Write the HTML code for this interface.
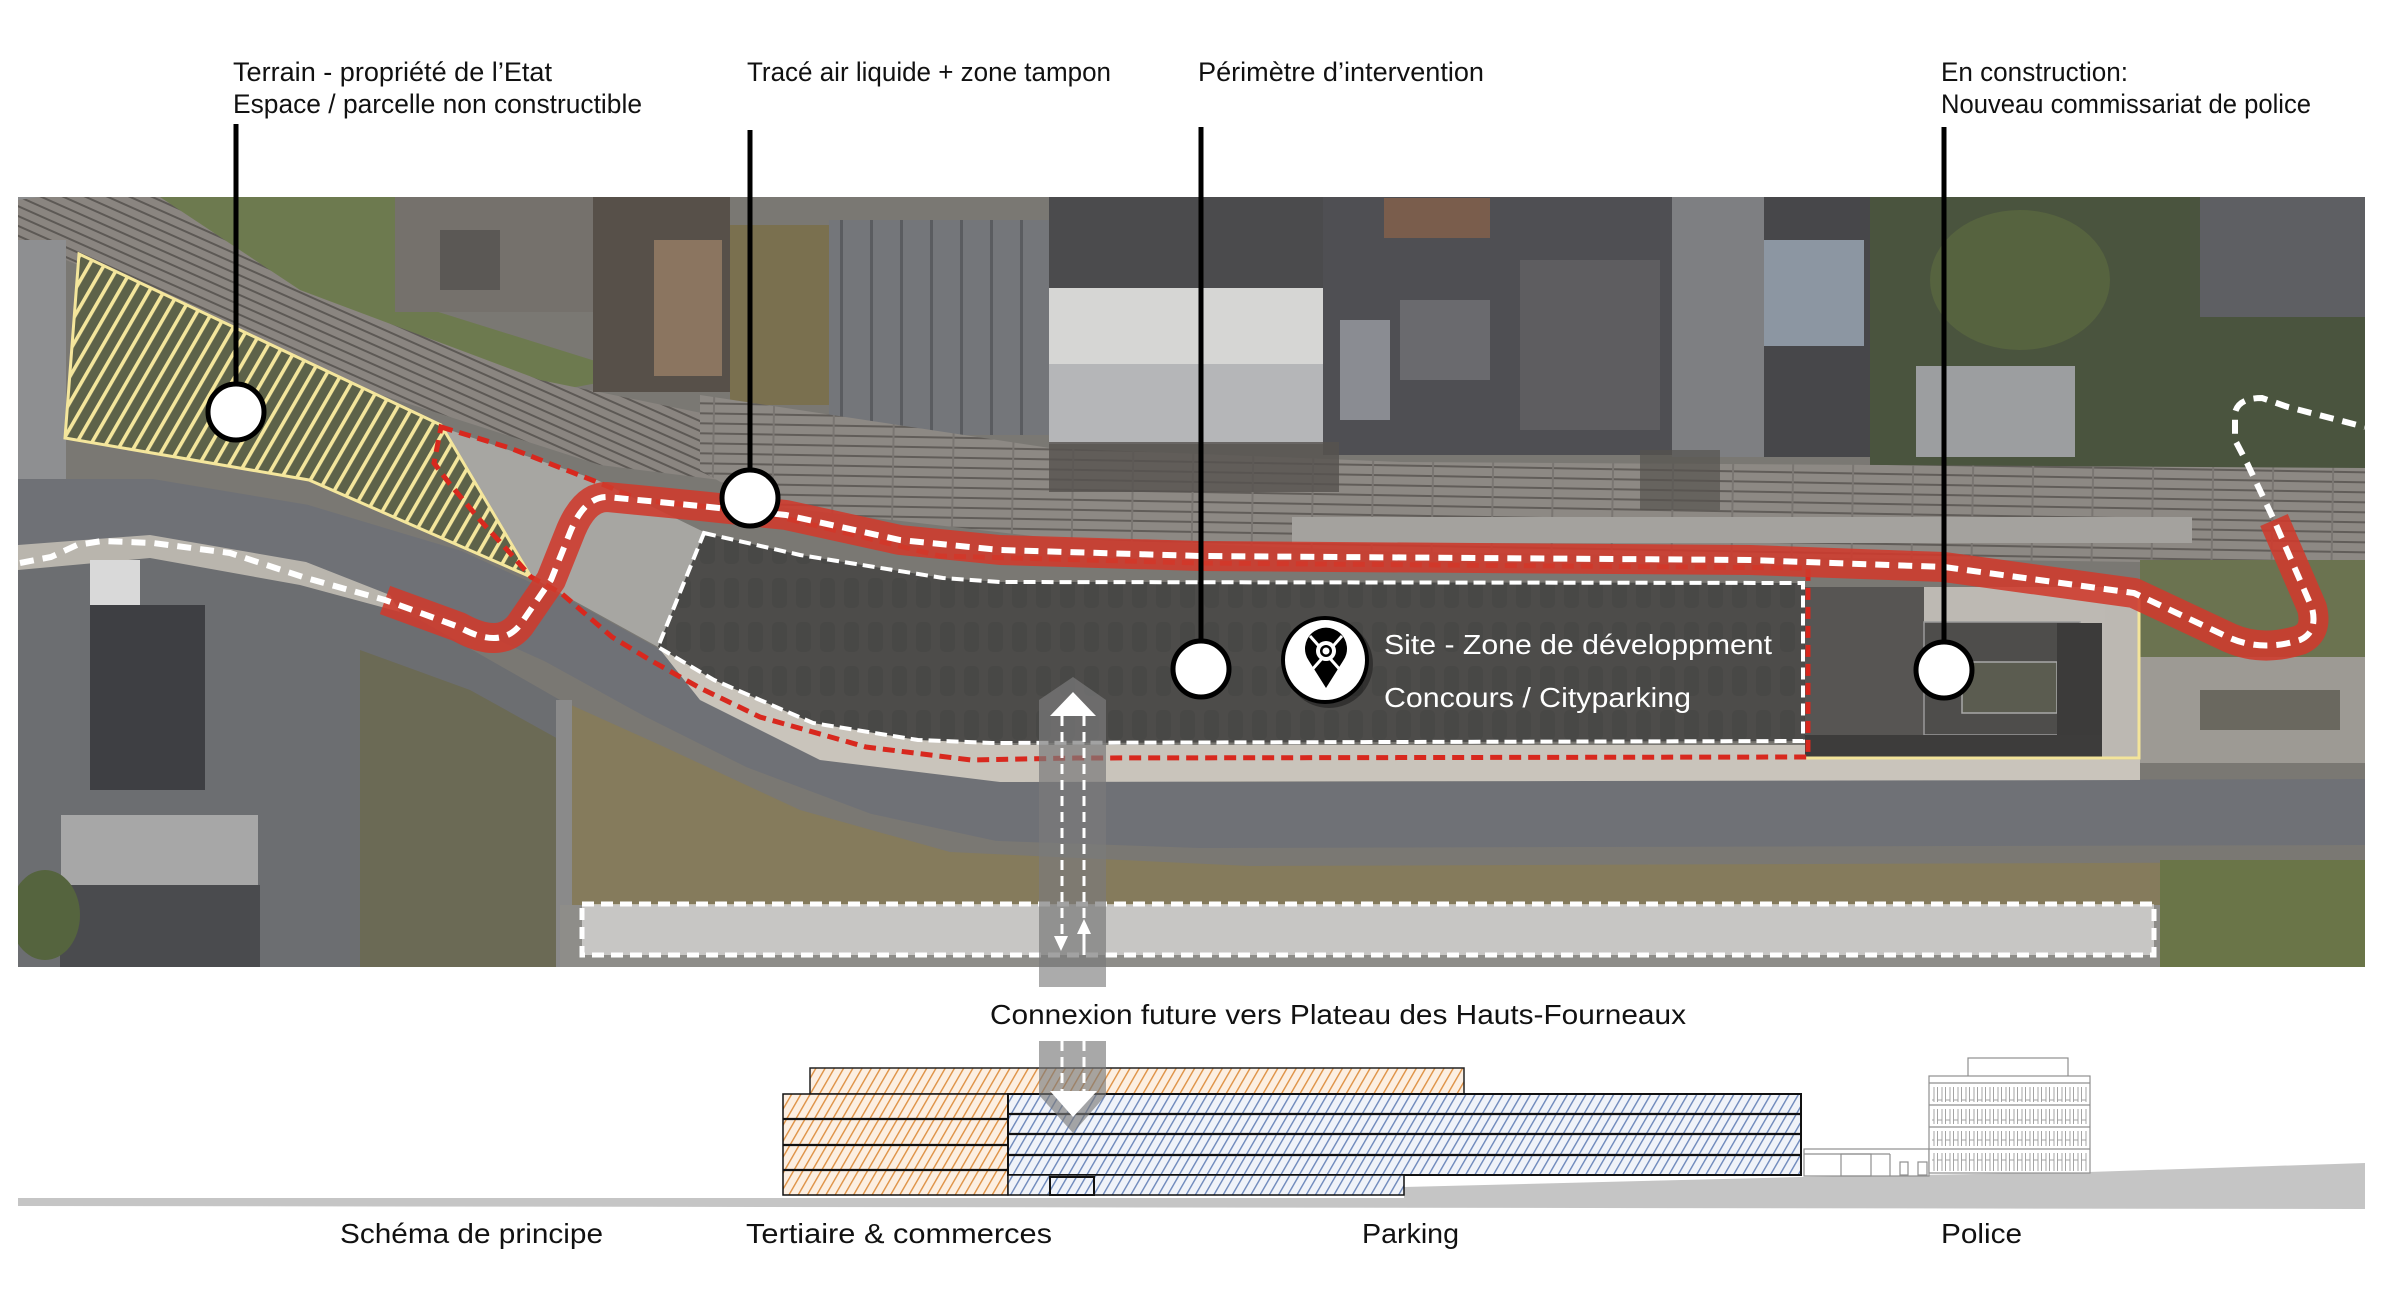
<!DOCTYPE html>
<html><head><meta charset="utf-8"><style>
html,body{margin:0;padding:0;background:#fff;}
svg{display:block;}
text{font-family:"Liberation Sans",sans-serif;}
</style></head><body>
<svg width="2384" height="1296" viewBox="0 0 2384 1296" xmlns="http://www.w3.org/2000/svg">
<defs>
 <clipPath id="ac"><rect x="18" y="197" width="2347" height="770"/></clipPath>
 <pattern id="railL" width="40" height="9" patternUnits="userSpaceOnUse" patternTransform="rotate(24)">
  <rect width="40" height="9" fill="#8a8580"/><rect y="0" width="40" height="2" fill="#5d5955"/>
 </pattern>
 <pattern id="railR" width="60" height="10" patternUnits="userSpaceOnUse" patternTransform="rotate(1)">
  <rect width="60" height="10" fill="#8d8984"/><rect y="0" width="60" height="2" fill="#615d59"/><rect x="0" y="0" width="2" height="10" fill="#7a7672"/>
 </pattern>
 <pattern id="roofs" width="30" height="30" patternUnits="userSpaceOnUse">
  <rect width="30" height="30" fill="#74767a"/><rect width="3" height="30" fill="#5a5c60"/>
 </pattern>
 <pattern id="cars" width="24" height="44" patternUnits="userSpaceOnUse">
  <rect width="24" height="44" fill="#504f4d"/><rect x="4" y="6" width="15" height="30" rx="5" fill="#474644"/>
 </pattern>
 <pattern id="hatchY" width="13" height="13" patternUnits="userSpaceOnUse" patternTransform="rotate(30)">
  <rect x="0" y="0" width="3.6" height="13" fill="#f4e69c"/>
 </pattern>
 <pattern id="hatchO" width="8" height="8" patternUnits="userSpaceOnUse" patternTransform="rotate(30)">
  <rect width="8" height="8" fill="#fcefe2"/><rect width="1.4" height="8" fill="#de9144"/>
 </pattern>
 <pattern id="hatchB" width="8" height="8" patternUnits="userSpaceOnUse" patternTransform="rotate(30)">
  <rect width="8" height="8" fill="#f0f3f9"/><rect width="1.4" height="8" fill="#6d88bb"/>
 </pattern>
 <pattern id="win" width="8" height="20" patternUnits="userSpaceOnUse">
  <rect x="1.5" y="0" width="4.5" height="20" fill="none" stroke="#9a9a9a" stroke-width="0.9"/>
 </pattern>
</defs>

<!-- ================= AERIAL ================= -->
<g clip-path="url(#ac)">
 <rect x="18" y="197" width="2347" height="770" fill="#7a7873"/>
 <rect x="18" y="197" width="45" height="380" fill="#8c8d8e"/>
 <polygon points="150,197 400,197 400,300 640,375 560,390 300,300" fill="#6d7a4f"/>
 <polygon points="40,197 160,197 300,290 540,380 760,425 760,485 600,465 350,385 150,295 18,240 18,200" fill="url(#railL)"/>
 <rect x="395" y="197" width="200" height="115" fill="#75716c"/>
 <rect x="440" y="230" width="60" height="60" fill="#5b5855"/>
 <rect x="593" y="197" width="137" height="195" fill="#575049"/>
 <rect x="654" y="240" width="68" height="136" fill="#8b7560"/>
 <rect x="730" y="225" width="100" height="180" fill="#7a704f"/>
 <rect x="829" y="220" width="220" height="215" fill="url(#roofs)"/>
 <rect x="1049" y="197" width="275" height="92" fill="#4b4b4d"/>
 <rect x="1049" y="288" width="274" height="77" fill="#d6d6d4"/>
 <rect x="1049" y="364" width="274" height="80" fill="#b5b6b8"/>
 <rect x="1323" y="197" width="350" height="258" fill="#4f4f53"/>
 <rect x="1384" y="198" width="106" height="40" fill="#7a5d4c"/>
 <rect x="1400" y="300" width="90" height="80" fill="#6a6a6e"/>
 <rect x="1520" y="260" width="140" height="170" fill="#5e5d60"/>
 <rect x="1340" y="320" width="50" height="100" fill="#8a8c92"/>
 <rect x="1672" y="197" width="92" height="260" fill="#7e7f82"/>
 <rect x="1764" y="197" width="106" height="260" fill="#47474a"/>
 <rect x="1764" y="240" width="100" height="106" fill="#8c96a2"/>
 <rect x="1870" y="197" width="495" height="280" fill="#4a543e"/>
 <ellipse cx="2020" cy="280" rx="90" ry="70" fill="#56633f"/>
 <rect x="2200" y="197" width="165" height="120" fill="#5e5f63"/>
 <rect x="1916" y="366" width="159" height="91" fill="#9c9ea0"/>
 <polygon points="700,395 1050,448 1400,462 2365,468 2365,565 1400,552 1050,538 760,505 700,470" fill="url(#railR)"/>
 <rect x="1049" y="442" width="290" height="50" fill="#56534f" opacity="0.8"/>
 <rect x="1640" y="450" width="80" height="60" fill="#56534f" opacity="0.7"/>
 <rect x="1292" y="517" width="900" height="26" fill="#a4a29e"/>
 <rect x="18" y="240" width="48" height="320" fill="#8e8f91"/>
 <polygon points="441,427 597,480 704,532 658,647 531,577" fill="#a7a6a2"/>
 <path d="M18,512 L150,512 L300,537 L450,582 L560,632 L660,687 L760,737 L880,782 L1000,808 L1200,815 L2365,812" fill="none" stroke="#6f7176" stroke-width="66"/>
 <polygon points="658,647 800,712 995,745 2140,745 2140,780 1000,782 820,760 700,700" fill="#c9c4bb"/>
 <polygon points="18,560 150,548 300,572 420,620 560,700 560,967 18,967" fill="#6c6e71"/>
 <polygon points="18,545 150,535 306,562 390,595 400,612 300,585 150,558 18,570" fill="#b9b5ad"/>
 <rect x="90" y="560" width="50" height="45" fill="#d9d9d9"/>
 <rect x="90" y="605" width="115" height="185" fill="#3e3f43"/>
 <rect x="61" y="815" width="197" height="70" fill="#a7a7a7"/>
 <rect x="60" y="885" width="200" height="82" fill="#4a4b4e"/>
 <ellipse cx="45" cy="915" rx="35" ry="45" fill="#55643e"/>
 <polygon points="360,650 470,690 560,740 560,967 360,967" fill="#6b6a55"/>
 <polygon points="560,700 660,745 800,810 950,852 1250,866 2365,862 2365,905 560,905" fill="#857b5c"/>
 <rect x="556" y="700" width="16" height="267" fill="#8a8a8a"/>
 <rect x="560" y="905" width="1600" height="62" fill="#8e8d89"/>
 <rect x="2160" y="860" width="205" height="107" fill="#6a7548"/>
 <rect x="2100" y="590" width="50" height="170" fill="#bcb8b2"/>
 <rect x="2140" y="560" width="225" height="100" fill="#6b7350"/>
 <rect x="2140" y="657" width="225" height="106" fill="#9d9a94"/>
 <rect x="2200" y="690" width="140" height="40" fill="#6a685f"/>
 <rect x="1805" y="587" width="300" height="170" fill="#bdb9b3"/>
 <rect x="1805" y="587" width="119" height="148" fill="#575553"/>
 <rect x="1924" y="622" width="156" height="113" fill="#4e4d4b" stroke="#9a9a9a" stroke-width="1.5"/>
 <rect x="1962" y="662" width="95" height="51" fill="#5b5c50" stroke="#a8a8a8" stroke-width="1.5"/>
 <rect x="2057" y="623" width="45" height="120" fill="#3c3b3a"/>
 <rect x="1805" y="735" width="297" height="22" fill="#3d3c3b"/>
 <!-- site dark overlay -->
 <polygon points="704,533 800,555 943,578 1000,582 1805,583 1805,741 992,743 918,740 813,723 714,680 658,647" fill="url(#cars)"/>
 <polygon points="704,533 800,555 943,578 1000,582 1805,583 1805,741 992,743 918,740 813,723 714,680 658,647" fill="#4a4948" opacity="0.5"/>
 <!-- yellow hatch zone -->
 <polygon points="79,254 441,425 531,577 309,480 65,438" fill="#5d6249"/>
 <polygon points="79,254 441,425 531,577 309,480 65,438" fill="url(#hatchY)"/>
 <polygon points="79,254 441,425 531,577 309,480 65,438" fill="none" stroke="#f4e69c" stroke-width="3"/>
 <polyline points="1805,758 2139,758 2139,598" fill="none" stroke="#f3e49a" stroke-width="3"/>
 <!-- bottom dashed rectangle -->
 <rect x="582" y="904" width="1572" height="51" fill="#ffffff" opacity="0.5"/>
 <rect x="582" y="904" width="1572" height="51" fill="none" stroke="#fff" stroke-width="5" stroke-dasharray="12 7"/>
 <!-- red dashed perimeter -->
 <path d="M441,427 L510,448 L561,468 L597,482 L640,500 L760,512 L940,556 L1200,563 L1808,568 L1808,757 L1076,758 L971,760 L866,747 L760,717 L700,688 L650,660 L612,637 L561,593 L531,577 L510,553 L480,520 L449,483 L434,463 Z" fill="none" stroke="#d8281e" stroke-width="5" stroke-dasharray="12 7"/>
 <path d="M704,533 L800,555 L943,578 L1000,582 L1803,583 L1803,741 L992,743 L918,740 L813,723 L714,680 L658,647 Z" fill="none" stroke="#fff" stroke-width="4" stroke-dasharray="12 6"/>
 <!-- red band -->
 <path d="M385,600 L459,627 Q500,650 520,625 L551,580 L571,530 Q585,497 607,497 L700,506 L786,515 L900,540 L1000,550 L1200,556 L1750,560 L1944,567 L2134,593 L2230,638 Q2262,652 2300,640 Q2318,632 2312,608 L2274,520" fill="none" stroke="#cf3a2c" stroke-opacity="0.88" stroke-width="30" stroke-linejoin="round"/>
 <path d="M20,563 L51,557 L77,545 L102,541 L153,543 L230,553 L306,578 L385,600 L459,627 Q500,650 520,625 L551,580 L571,530 Q585,497 607,497 L700,506 L786,515 L900,540 L1000,550 L1200,556 L1750,560 L1944,567 L2134,593 L2230,638 Q2262,652 2300,640 Q2318,632 2312,608 L2274,520 L2247,463 L2235,440 L2235,413 Q2238,398 2262,398 L2288,407 L2365,427" fill="none" stroke="#fff" stroke-width="6" stroke-dasharray="14 9"/>
 <!-- connexion arrow (aerial) -->
 <polygon points="1039,987 1039,700 1073,677 1106,700 1106,987" fill="#7a7a7a" opacity="0.7"/>
 <polygon points="1073,692 1050,716 1096,716" fill="#fff"/>
 <line x1="1062" y1="716" x2="1062" y2="938" stroke="#fff" stroke-width="3" stroke-dasharray="10 6"/>
 <line x1="1084" y1="934" x2="1084" y2="955" stroke="#fff" stroke-width="3"/>
 <line x1="1084" y1="716" x2="1084" y2="918" stroke="#fff" stroke-width="3" stroke-dasharray="10 6"/>
 <polygon points="1054,936 1068,936 1061,951" fill="#fff"/>
 <polygon points="1077,934 1091,934 1084,919" fill="#fff"/>
</g>
<rect x="1039" y="967" width="67" height="20" fill="#ababab"/>

<!-- site icon -->
<circle cx="1329" cy="664" r="44" fill="#000" opacity="0.35"/>
<circle cx="1325" cy="660" r="42" fill="#fff" stroke="#000" stroke-width="4"/>
<path d="M1326,688 L1309,661 A21,21 0 1 1 1343,661 Z" fill="#000"/>
<circle cx="1326" cy="651" r="10" fill="#fff"/>
<line x1="1310" y1="636" x2="1342" y2="672" stroke="#fff" stroke-width="3"/>
<line x1="1342" y1="636" x2="1310" y2="672" stroke="#fff" stroke-width="3"/>
<circle cx="1326" cy="651" r="6" fill="#000"/>
<circle cx="1326" cy="651" r="3.5" fill="#fff"/>

<!-- leader lines -->
<g stroke="#000" stroke-width="5">
 <line x1="236" y1="124" x2="236" y2="390"/>
 <line x1="750" y1="130" x2="750" y2="475"/>
 <line x1="1201" y1="127" x2="1201" y2="645"/>
 <line x1="1944" y1="127" x2="1944" y2="645"/>
</g>
<g fill="#fff" stroke="#000" stroke-width="5">
 <circle cx="236" cy="412" r="28"/>
 <circle cx="750" cy="498" r="28"/>
 <circle cx="1201" cy="669" r="28"/>
 <circle cx="1944" cy="670" r="28"/>
</g>

<!-- top labels -->
<g font-size="27" fill="#111">
 <text x="233" y="81" textLength="319" lengthAdjust="spacingAndGlyphs">Terrain - propriété de l’Etat</text>
 <text x="233" y="113" textLength="409" lengthAdjust="spacingAndGlyphs">Espace / parcelle non constructible</text>
 <text x="747" y="81" textLength="364" lengthAdjust="spacingAndGlyphs">Tracé air liquide + zone tampon</text>
 <text x="1198" y="81" textLength="286" lengthAdjust="spacingAndGlyphs">Périmètre d’intervention</text>
 <text x="1941" y="81" textLength="187" lengthAdjust="spacingAndGlyphs">En construction:</text>
 <text x="1941" y="113" textLength="370" lengthAdjust="spacingAndGlyphs">Nouveau commissariat de police</text>
</g>
<g font-size="28" fill="#fff">
 <text x="1384" y="654" textLength="388" lengthAdjust="spacingAndGlyphs">Site - Zone de développment</text>
 <text x="1384" y="707" textLength="307" lengthAdjust="spacingAndGlyphs">Concours / Cityparking</text>
</g>

<!-- ================= SECTION ================= -->
<text x="990" y="1024" font-size="28" fill="#111" textLength="696" lengthAdjust="spacingAndGlyphs">Connexion future vers Plateau des Hauts-Fourneaux</text>

<polygon points="18,1198 1404,1198 1404,1187 1803,1177 2089,1172 2365,1163 2365,1209 18,1206" fill="#c5c5c5"/>

<rect x="810" y="1068" width="654" height="26" fill="url(#hatchO)" stroke="#222" stroke-width="1.5"/>
<rect x="783" y="1094" width="225" height="101" fill="url(#hatchO)" stroke="#111" stroke-width="1.5"/>
<g stroke="#111" stroke-width="2.2">
 <line x1="783" y1="1119" x2="1008" y2="1119"/>
 <line x1="783" y1="1145" x2="1008" y2="1145"/>
 <line x1="783" y1="1170" x2="1008" y2="1170"/>
</g>
<rect x="1008" y="1094" width="793" height="81" fill="url(#hatchB)" stroke="#111" stroke-width="2"/>
<g stroke="#111" stroke-width="2.2">
 <line x1="1008" y1="1114" x2="1801" y2="1114"/>
 <line x1="1008" y1="1134" x2="1801" y2="1134"/>
 <line x1="1008" y1="1155" x2="1801" y2="1155"/>
</g>
<rect x="1008" y="1175" width="396" height="20" fill="url(#hatchB)" stroke="#111" stroke-width="1.5"/>
<rect x="1050" y="1177" width="44" height="18" fill="none" stroke="#111" stroke-width="2"/>

<polygon points="1039,1041 1106,1041 1106,1095 1073,1133 1039,1095" fill="#7a7a7a" opacity="0.65"/>
<line x1="1062" y1="1041" x2="1062" y2="1091" stroke="#fff" stroke-width="3" stroke-dasharray="10 6"/>
<line x1="1084" y1="1041" x2="1084" y2="1091" stroke="#fff" stroke-width="3" stroke-dasharray="10 6"/>
<polygon points="1050,1091 1097,1091 1073,1117" fill="#fff"/>

<g fill="none" stroke="#8f8f8f" stroke-width="1.2">
 <rect x="1804" y="1149" width="125" height="27" fill="#fff"/>
 <line x1="1804" y1="1154" x2="1890" y2="1154"/>
 <line x1="1890" y1="1154" x2="1890" y2="1176"/>
 <rect x="1841" y="1154" width="30" height="22"/>
 <rect x="1900" y="1162" width="8" height="13"/>
 <rect x="1918" y="1162" width="9" height="13"/>
 <rect x="1968" y="1058" width="100" height="19" fill="#fff"/>
 <rect x="1929" y="1076" width="161" height="97" fill="#fff"/>
 <line x1="1929" y1="1083" x2="2090" y2="1083"/>
 <line x1="1929" y1="1105" x2="2090" y2="1105"/>
 <line x1="1929" y1="1127" x2="2090" y2="1127"/>
 <line x1="1929" y1="1149" x2="2090" y2="1149"/>
</g>
<rect x="1932" y="1087" width="155" height="15" fill="url(#win)"/>
<rect x="1932" y="1109" width="155" height="15" fill="url(#win)"/>
<rect x="1932" y="1131" width="155" height="15" fill="url(#win)"/>
<rect x="1932" y="1153" width="155" height="18" fill="url(#win)"/>

<g font-size="28" fill="#111">
 <text x="340" y="1243" textLength="263" lengthAdjust="spacingAndGlyphs">Schéma de principe</text>
 <text x="746" y="1243" textLength="306" lengthAdjust="spacingAndGlyphs">Tertiaire &amp; commerces</text>
 <text x="1362" y="1243" textLength="97" lengthAdjust="spacingAndGlyphs">Parking</text>
 <text x="1941" y="1243" textLength="81" lengthAdjust="spacingAndGlyphs">Police</text>
</g>
</svg>
</body></html>
